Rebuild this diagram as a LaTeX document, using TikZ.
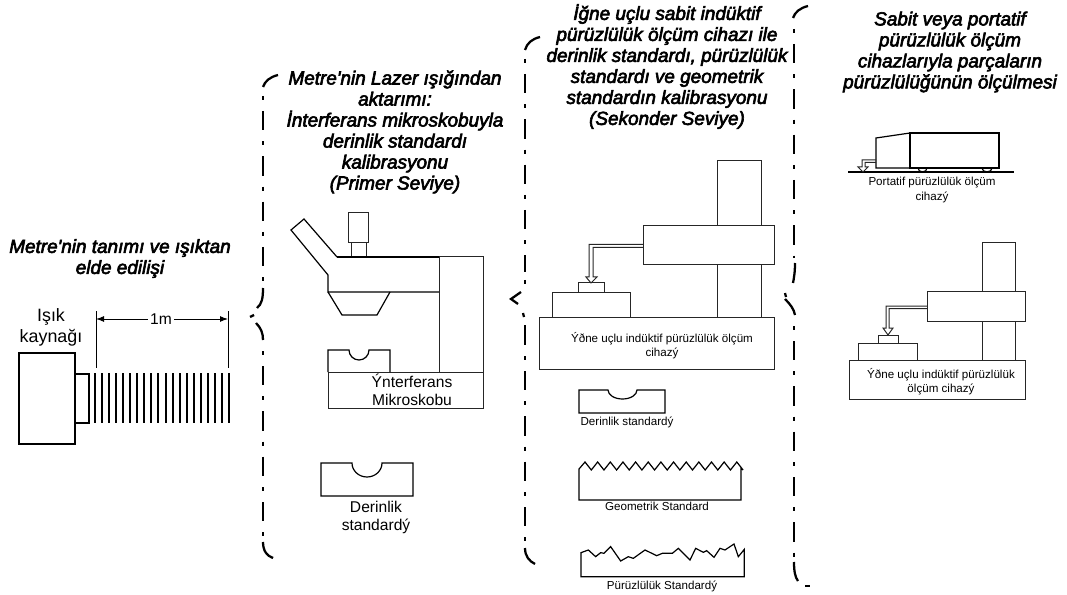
\documentclass[tikz,border=0pt]{standalone}
\usepackage{fontspec}
\usetikzlibrary{arrows.meta}
\setmainfont{Liberation Sans}
\newfontfamily\ttlfont[FakeBold=3.2]{Liberation Sans Italic}
\tikzset{
  x=0.75pt,y=-0.75pt,
  brace/.style={line width=1.7pt,line cap=butt},
  braced/.style={brace,dash pattern=on 3pt off 8.25pt on 14.5pt off 8.25pt},
  part/.style={draw=black!85,line width=0.75pt},
  partb/.style={draw=black,line width=0.9pt},
  bigtxt/.style={font=\fontsize{11.7pt}{13.5pt}\selectfont,align=center,inner sep=0pt},
  smalltxt/.style={font=\fontsize{8.7pt}{10.6pt}\selectfont,align=center,inner sep=0pt},
  ttl/.style={font=\ttlfont\fontsize{14.2pt}{15.75pt}\selectfont,align=center,inner sep=0pt},
}
\begin{document}
\begin{tikzpicture}
\useasboundingbox (0,0) rectangle (1067,595);
% titles
\node[ttl] (t1) at (120,258.5) {Metre'nin tanımı ve ışıktan\\elde edilişi};
\node[ttl] (t2) at (395,132) {Metre'nin Lazer ışığından\\aktarımı:\\İnterferans mikroskobuyla\\derinlik standardı\\kalibrasyonu\\(Primer Seviye)};
\node[ttl] (t3) at (667,66.5) {İğne uçlu sabit indüktif\\pürüzlülük ölçüm cihazı ile\\derinlik standardı, pürüzlülük\\standardı ve geometrik\\standardın kalibrasyonu\\(Sekonder Seviye)};
\node[ttl] (t4) at (950,52) {Sabit veya portatif\\pürüzlülük ölçüm\\cihazlarıyla parçaların\\pürüzlülüğünün ölçülmesi};
% brace 1
\draw[brace] (278,75) .. controls (270,77) and (265,81) .. (263,87);
\draw[braced] (263,96) -- (263,284);
\draw[brace] (263,288) .. controls (263,298) and (262,304) .. (257,308);
\draw[brace] (250,317) -- (254,315);
\draw[brace] (256,323) .. controls (261,328) and (263,333) .. (263,340);
\draw[braced] (263,351) -- (263,536);
\draw[brace] (263,542) .. controls (263,551) and (267,556) .. (273,558);
% brace 2
\draw[brace] (540,37) .. controls (532,39) and (527,43) .. (525,50);
\draw[braced] (525,59) -- (525,272);
\draw[brace] (525,280) -- (525,284);
\draw[brace] (521,292) -- (511,299) -- (518,304);
\draw[brace] (523,313) -- (524,317);
\draw[braced] (525,356) -- (525,545);
\draw[brace] (525,325) -- (525,345);
\draw[brace] (525,548) .. controls (525,556) and (529,561) .. (535,564);
% brace 3
\draw[brace] (808,6) .. controls (800,8) and (795,12) .. (793,18);
\draw[braced] (794,29) -- (794,258);
\draw[brace] (795,263) .. controls (795,272) and (794,278) .. (793,283);
\draw[brace] (785,293) -- (786,297);
\draw[brace] (785,299) .. controls (790,304) and (794,309) .. (795,315);
\draw[braced] (794,326) -- (794,557);
\draw[brace] (794,562) .. controls (794,571) and (795,577) .. (798,581);
\draw[brace] (805,586) -- (810,586);
% light source
\draw[partb] (19,353) rectangle (75,444);
\draw[partb] (75,374) rectangle (89,423);
\foreach \i in {0,...,19}{\draw[line width=1.5pt] (95+\i*7.05,373) -- (95+\i*7.05,423);}
\node[bigtxt,font=\fontsize{13.4pt}{16pt}\selectfont] (isik) at (51,327.5) {Işık\\kaynağı};
\coordinate (d1) at (96,319); \coordinate (d2) at (228,319);
\draw[line width=0.75pt] (96,311) -- (96,368);
\draw[line width=0.75pt] (228,311) -- (228,368);
\node[bigtxt,inner xsep=1.5pt] (onem) at (161,319) {1m};
\draw[line width=0.75pt,-{Latex[length=6pt,width=4.5pt]}] (onem) -- (d1);
\draw[line width=0.75pt,-{Latex[length=6pt,width=4.5pt]}] (onem) -- (d2);
% microscope
\draw[part] (348,213) rectangle (368,243);
\draw[part] (351,243) rectangle (366,257);
\draw[partb] (337,257) -- (304,219) -- (291,230) -- (328,275) -- (328,292) -- (439,292);
\draw[partb] (337,257) -- (439,257);
\draw[part] (439,257) -- (483,257) -- (483,372);
\draw[part] (439,257) -- (439,372);
\draw[partb] (328,292) -- (342,315) -- (377,315) -- (390,292);
\draw[part] (328,372) rectangle (483,408);
\draw[partb] (328,372) -- (328,350) -- (349,350) arc[start angle=180,end angle=0,x radius=10,y radius=10] -- (390,350) -- (390,372);
\node[bigtxt] (mik) at (412,390) {Ýnterferans\\Mikroskobu};
\draw[partb] (321,463) -- (352,463) arc[start angle=180,end angle=0,x radius=15,y radius=14] -- (413,463) -- (413,496) -- (321,496) -- cycle;
\node[bigtxt] (ds1) at (376,517) {Derinlik\\standardý};
% stationary device (middle)
\draw[part] (717,226) -- (717,161) -- (761,161) -- (761,226);
\draw[part] (717,265) -- (717,317);
\draw[part] (761,265) -- (761,317);
\draw[part] (643,226) rectangle (774,265);
\draw[part] (539,317) rectangle (774,369);
\draw[part] (552,317) -- (552,293) -- (630,293) -- (630,317);
\draw[part] (578,293) -- (578,283) -- (604,283) -- (604,293);
\draw[part] (643,244.5) -- (589,244.5) -- (589,277) -- (586,277) -- (591,283) -- (597,277) -- (593,277) -- (593,247.5) -- (643,247.5);
\node[smalltxt] (dev1) at (662,346) {Ýðne uçlu indüktif pürüzlülük ölçüm\\cihazý};
% standards (middle)
\draw[partb] (579,390) -- (608,390) arc[start angle=180,end angle=0,x radius=14.5,y radius=9] -- (665,390) -- (665,413) -- (579,413) -- cycle;
\node[smalltxt] (ds2) at (627,422) {Derinlik standardý};
\draw[partb] (579,469) \foreach \i in {0,...,12}{ -- (585+\i*12.65,462) -- (591.3+\i*12.65,470)} -- (741,468) -- (741,500) -- (579,500) -- cycle;
\node[smalltxt] (gs) at (657,506) {Geometrik Standard};
\begin{scope}[shift={(510,290)},x=0.25pt,y=-0.25pt]
\draw[partb] (213,788) -- (235,780) -- (257,800) -- (272,788) -- (282,790) -- (302,770) -- (332,813) -- (355,800) -- (370,805) -- (405,780) -- (440,797) -- (457,790) -- (487,790) -- (505,775) -- (540,810) -- (557,775) -- (580,787) -- (590,782) -- (612,802) -- (630,775) -- (645,780) -- (672,762) -- (685,800) -- (703,778) -- (703,860) -- (213,860) -- cycle;
\end{scope}
\node[smalltxt] (rs) at (662,586) {Pürüzlülük Standardý};
% portable device
\draw[partb] (910,133) rectangle (999,168);
\draw[partb] (910,133) -- (876,138) -- (876,168) -- (910,168);
\draw[partb] (918,168) arc[start angle=180,end angle=0,x radius=4.5,y radius=4];
\draw[partb] (982,168) arc[start angle=180,end angle=0,x radius=5,y radius=4];
\draw[partb] (848,172) -- (1014,172);
\draw[part] (876,160) -- (862,160) -- (862,167) -- (858,167) -- (863,172) -- (868,167) -- (865,167) -- (865,162.5) -- (876,162.5);
\node[smalltxt] (pd) at (932,190) {Portatif pürüzlülük ölçüm\\cihazý};
% stationary device (right)
\draw[part] (982,292) -- (982,243) -- (1015,243) -- (1015,292);
\draw[part] (982,321) -- (982,360);
\draw[part] (1015,321) -- (1015,360);
\draw[part] (927,292) rectangle (1025,321);
\draw[part] (849,360) rectangle (1025,399);
\draw[part] (858,360) -- (858,343) -- (917,343) -- (917,360);
\draw[part] (878,343) -- (878,335) -- (898,335) -- (898,343);
\draw[part] (927,306) -- (886,306) -- (886,328) -- (883,328) -- (888,335) -- (893,328) -- (889,328) -- (889,308.5) -- (927,308.5);
\node[smalltxt] (dev2) at (941,381.5) {Ýðne uçlu indüktif pürüzlülük\\ölçüm cihazý};
\end{tikzpicture}
\end{document}
